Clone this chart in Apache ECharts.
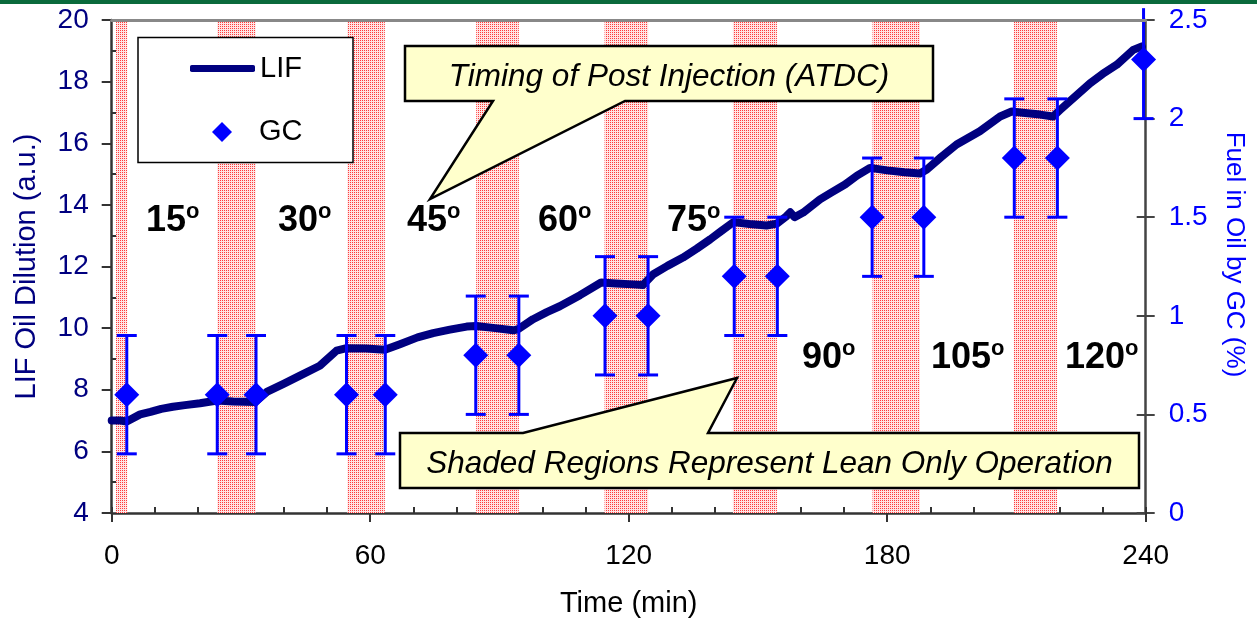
<!DOCTYPE html>
<html>
<head>
<meta charset="utf-8">
<script src="https://cdn.jsdelivr.net/npm/echarts@6/dist/echarts.min.js"></script>
<style>
html,body{margin:0;padding:0;background:#fff;}
#chart{width:1257px;height:623px;}
</style>
</head>
<body>
<div id="chart"></div>
<script>
// ---- data ----
const lifTime = [0, 2, 3.5, 6.6, 9, 11.5, 14.2, 17, 20.5, 24.5, 28.2, 33.3, 36, 40, 43.7, 48.3, 52.2, 54.5, 59, 63.4,
  66.9, 71, 74.6, 78.5, 82.4, 84.6, 89, 93.2, 94.4, 97.8, 101, 104, 108.7, 113.6, 117, 121, 123.3, 125.7, 129, 132.6,
  135.8, 138.9, 141.5, 144.3, 148, 152, 154.4, 156.5, 157.5, 158.5, 160.5, 164.4, 167, 170.2, 173, 176, 180, 184, 187.6,
  189.2, 192.5, 196.1, 201.5, 206.2, 208.9, 212, 215.5, 218.5, 220.2, 223.5, 227.1, 230, 233.3, 237.1, 239.1];
const lifValue = [7.00, 7.00, 6.97, 7.20, 7.28, 7.38, 7.45, 7.50, 7.56, 7.65, 7.62, 7.60, 7.93, 8.20, 8.46, 8.78, 9.27, 9.35, 9.34, 9.30,
  9.48, 9.70, 9.84, 9.95, 10.05, 10.07, 10.00, 9.93, 9.97, 10.29, 10.52, 10.71, 11.07, 11.48, 11.45, 11.42, 11.40, 11.75, 12.02, 12.29,
  12.58, 12.88, 13.15, 13.44, 13.38, 13.33, 13.39, 13.62, 13.76, 13.60, 13.75, 14.18, 14.40, 14.66, 14.95, 15.20, 15.12, 15.06, 15.02,
  15.15, 15.55, 15.96, 16.39, 16.87, 17.03, 16.98, 16.93, 16.87, 17.09, 17.50, 17.95, 18.25, 18.55, 19.03, 19.14];

const gcTime  = [3.5, 24.5, 33.5, 54.5, 63.5, 84.5, 94.5, 114.5, 124.5, 144.5, 154.5, 176.5, 188.5, 209.5, 219.5, 239.5];
const gcValue = [0.6, 0.6, 0.6, 0.6, 0.6, 0.8, 0.8, 1.0, 1.0, 1.2, 1.2, 1.5, 1.5, 1.8, 1.8, 2.3];
const gcErrorLow  = [0.3, 0.3, 0.3, 0.3, 0.3, 0.3, 0.3, 0.3, 0.3, 0.3, 0.3, 0.3, 0.3, 0.3, 0.3, 0.3];
const gcErrorHigh = [0.3, 0.3, 0.3, 0.3, 0.3, 0.3, 0.3, 0.3, 0.3, 0.3, 0.3, 0.3, 0.3, 0.3, 0.3, 0.26];

const leanStart = [1, 24.5, 54.7, 84.6, 114.4, 144.2, 176.6, 209.4];
const leanEnd   = [3.6, 33.4, 63.4, 94.5, 124.5, 154.4, 187.6, 219.4];

const timingLabels = ['15', '30', '45', '60', '75', '90', '105', '120'];
const noteTop = 'Timing of Post Injection (ATDC)';
const noteBottom = 'Shaded Regions Represent Lean Only Operation';

// ---- build ----
const FONT = "'Liberation Sans', Arial, sans-serif";
const lifData = lifTime.map((t, i) => [t, lifValue[i]]);
const gcData = gcTime.map((t, i) => [t, gcValue[i]]);
const errData = gcTime.map((t, i) => [t, gcValue[i], gcErrorLow[i], gcErrorHigh[i]]);
const bandData = leanStart.map((s, i) => [{xAxis: s}, {xAxis: leanEnd[i]}]);

// dotted red pattern
const tile = document.createElement('canvas');
tile.width = 2; tile.height = 2;
const tctx = tile.getContext('2d');
tctx.fillStyle = 'rgb(255,228,228)';
tctx.fillRect(0, 0, 2, 2);
tctx.fillStyle = 'rgb(255,60,60)';
tctx.fillRect(0, 0, 1, 1);

// angle label positions (layout only)
const labelPos = [[146, 221], [278, 221], [407, 221], [538, 221], [667, 221], [802, 358], [931, 358], [1065, 358]];

const graphics = [
  {type: 'rect', shape: {x: 0, y: 0, width: 1257, height: 4}, style: {fill: '#0a6a3c'}, z: 50, silent: true},
  {type: 'rect', shape: {x: 138, y: 37.5, width: 215, height: 125}, style: {fill: '#fff', stroke: '#000', lineWidth: 1.5}, z: 3, silent: true},
  {type: 'polygon', shape: {points: [[405,46],[933,46],[933,101],[625,101],[430,199],[493,101],[405,101]]},
    style: {fill: '#ffffcc', stroke: '#000', lineWidth: 2.5}, z: 20, silent: true},
  {type: 'text', x: 669, y: 77, style: {text: noteTop, fill: '#000', font: 'italic 31.5px ' + FONT, align: 'center', verticalAlign: 'middle'}, z: 21, silent: true},
  {type: 'polygon', shape: {points: [[400,433],[523,433],[737,378],[708,433],[1139,433],[1139,488],[400,488]]},
    style: {fill: '#ffffcc', stroke: '#000', lineWidth: 2.5}, z: 20, silent: true},
  {type: 'text', x: 769.5, y: 464.5, style: {text: noteBottom, fill: '#000', font: 'italic 31.5px ' + FONT, align: 'center', verticalAlign: 'middle'}, z: 21, silent: true}
];
timingLabels.forEach((s, i) => {
  graphics.push({
    type: 'text', x: labelPos[i][0], y: labelPos[i][1], z: 21, silent: true,
    style: {
      text: '{a|' + s + '}{b|o}', align: 'left', verticalAlign: 'middle', fill: '#000',
      rich: {
        a: {fontSize: 36, fontWeight: 'bold', fontFamily: FONT, lineHeight: 40, fill: '#000'},
        b: {fontSize: 22, fontWeight: 'bold', fontFamily: FONT, lineHeight: 17, verticalAlign: 'top', fill: '#000'}
      }
    }
  });
});

const chart = echarts.init(document.getElementById('chart'), null, {renderer: 'canvas'});
chart.setOption({
  animation: false,
  backgroundColor: '#fff',
  textStyle: {fontFamily: FONT},
  grid: {left: 111.7, right: 111.3, top: 20, bottom: 108.5, containLabel: false},
  legend: [
    {data: [{name: 'LIF', icon: 'roundRect'}], left: 190, top: 53.5, padding: 0, itemWidth: 65, itemHeight: 7, selectedMode: false,
      itemStyle: {color: '#000080'},
      textStyle: {fontSize: 29, color: '#000', lineHeight: 30, fontFamily: FONT}},
    {data: [{name: 'GC', icon: 'diamond'}], left: 212, top: 117, padding: 0, itemWidth: 20, itemHeight: 20, selectedMode: false,
      textStyle: {fontSize: 29, color: '#000', lineHeight: 30, fontFamily: FONT, padding: [0, 0, 0, 22]}}
  ],
  xAxis: [
    {type: 'value', min: 0, max: 240, interval: 60, position: 'bottom',
      axisLine: {onZero: false, lineStyle: {color: '#333', width: 2.5}},
      axisTick: {show: true, length: 9, lineStyle: {color: '#333', width: 2}},
      axisLabel: {fontSize: 28, color: '#000', margin: 29, fontFamily: FONT},
      splitLine: {show: false},
      name: 'Time (min)', nameLocation: 'middle', nameGap: 76,
      nameTextStyle: {fontSize: 29, color: '#000', fontFamily: FONT}},
    {type: 'value', min: 0, max: 240, interval: 10, position: 'bottom',
      axisLine: {show: false, onZero: false}, axisTick: {show: true, inside: true, length: 6, lineStyle: {color: '#333', width: 2}},
      axisLabel: {show: false}, splitLine: {show: false}},
    {type: 'value', min: 0, max: 240, interval: 60, position: 'top', z: 10,
      axisLine: {show: true, onZero: false, lineStyle: {color: '#888', width: 3}}, axisTick: {show: false},
      axisLabel: {show: false}, splitLine: {show: false}}
  ],
  yAxis: [
    {type: 'value', min: 4, max: 20, interval: 2, position: 'left',
      axisLine: {show: true, onZero: false, lineStyle: {color: '#333', width: 2.5}},
      axisTick: {show: true, length: 10, lineStyle: {color: '#333', width: 2}},
      axisLabel: {fontSize: 28, color: '#000080', margin: 23, fontFamily: FONT},
      splitLine: {show: false},
      name: 'LIF Oil Dilution (a.u.)', nameLocation: 'middle', nameGap: 70, nameRotate: 90,
      nameTextStyle: {fontSize: 29, color: '#000080', fontFamily: FONT}},
    {type: 'value', min: 0, max: 2.5, interval: 0.5, position: 'right',
      axisLine: {show: true, onZero: false, lineStyle: {color: '#444', width: 2.5}},
      axisTick: {show: true, length: 9, lineStyle: {color: '#444', width: 2}},
      axisLabel: {fontSize: 28, color: '#0000ff', margin: 23, fontFamily: FONT},
      splitLine: {show: false},
      name: 'Fuel in Oil by GC (%)', nameLocation: 'middle', nameGap: 75, nameRotate: -90,
      nameTextStyle: {fontSize: 26, color: '#0000ff', fontFamily: FONT, padding: [0, 24, 0, 0]}},
    {type: 'value', min: 4, max: 20, interval: 2, position: 'left',
      axisLine: {show: false, onZero: false}, axisTick: {show: false, inside: true},
      minorTick: {show: true, splitNumber: 2, length: 7, lineStyle: {color: '#333', width: 2}},
      axisLabel: {show: false}, splitLine: {show: false}, minorSplitLine: {show: false}},
    {type: 'value', min: 0, max: 2.5, interval: 0.5, position: 'right',
      axisLine: {show: false, onZero: false}, axisTick: {show: true, inside: true, length: 9, lineStyle: {color: '#444', width: 2}},
      axisLabel: {show: false}, splitLine: {show: false}}
  ],
  series: [
    {name: 'LIF', type: 'line', xAxisIndex: 0, yAxisIndex: 0, data: lifData, symbol: 'none', smooth: false,
      lineStyle: {color: '#000080', width: 8, join: 'round', cap: 'round'}, itemStyle: {color: '#000080'}, z: 3,
      markArea: {silent: true, itemStyle: {color: {image: tile, repeat: 'repeat'}}, data: bandData, z: 1}},
    {name: 'GC err', type: 'custom', xAxisIndex: 0, yAxisIndex: 1, data: errData, clip: false, z: 4,
      encode: {x: 0, y: 1},
      renderItem: function (params, api) {
        const t = api.value(0), v = api.value(1), lo = api.value(2), hi = api.value(3);
        const top = api.coord([t, v + hi]);
        const bot = api.coord([t, v - lo]);
        const topCap = api.coord([t, 2.5]);
        const hw = 10;
        const st = {stroke: '#0000ff', lineWidth: 3};
        const kids = [
          {type: 'line', shape: {x1: top[0], y1: top[1], x2: bot[0], y2: bot[1]}, style: st},
          {type: 'line', shape: {x1: bot[0] - hw, y1: bot[1], x2: bot[0] + hw, y2: bot[1]}, style: st}
        ];
        if (top[1] >= topCap[1]) {
          kids.push({type: 'line', shape: {x1: top[0] - hw, y1: top[1], x2: top[0] + hw, y2: top[1]}, style: st});
        }
        return {type: 'group', children: kids};
      }},
    {name: 'GC', type: 'scatter', xAxisIndex: 0, yAxisIndex: 1, data: gcData, symbol: 'diamond', symbolSize: 25,
      itemStyle: {color: '#0000ff', opacity: 1}, z: 5, clip: false}
  ],
  graphic: graphics
});
</script>
</body>
</html>
